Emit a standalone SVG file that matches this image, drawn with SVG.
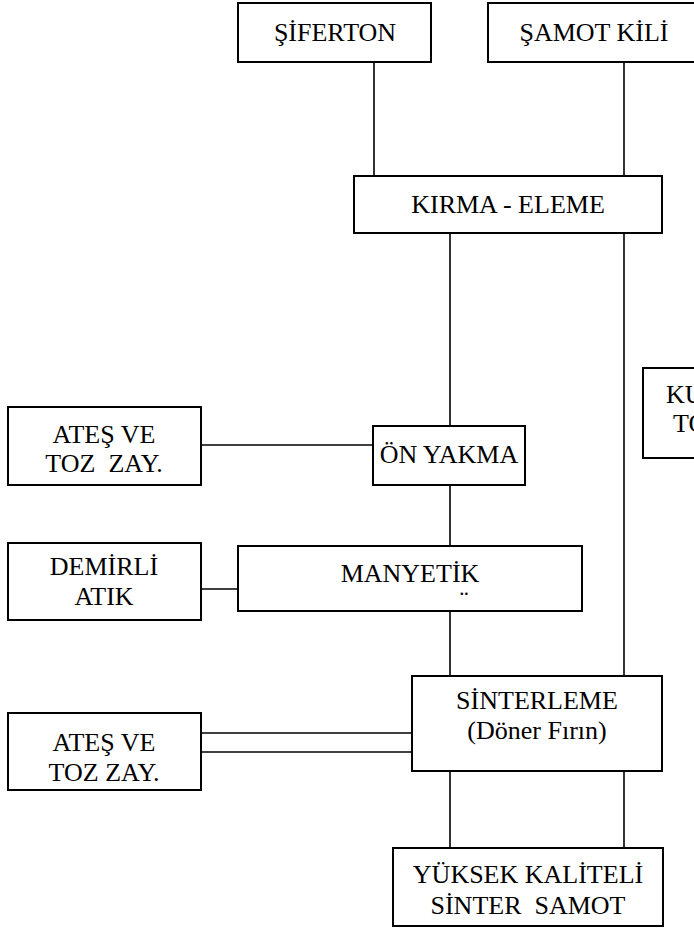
<svg xmlns="http://www.w3.org/2000/svg" width="694" height="929" viewBox="0 0 694 929">
  <style>
    .box { fill: #ffffff; stroke: #000000; stroke-width: 2; }
    .wire { fill: none; stroke: #000000; stroke-width: 1.6; }
    .lbl { font-family: 'Liberation Serif', 'DejaVu Serif', 'Times New Roman', serif; font-size: 26px; fill: #000000; }
    .lbl text { white-space: pre; }
    .c { text-anchor: middle; }
  </style>
  <rect width="694" height="929" fill="#ffffff"/>

  <!-- connectors -->
  <g id="connectors">
    <line class="wire" x1="374" y1="62" x2="374" y2="176"/>
    <line class="wire" x1="624" y1="62" x2="624" y2="176"/>
    <line class="wire" x1="450" y1="233" x2="450" y2="426"/>
    <line class="wire" x1="624" y1="233" x2="624" y2="676"/>
    <line class="wire" x1="201" y1="445" x2="373" y2="445"/>
    <line class="wire" x1="450" y1="485" x2="450" y2="546"/>
    <line class="wire" x1="201" y1="589" x2="238" y2="589"/>
    <line class="wire" x1="450" y1="611" x2="450" y2="676"/>
    <line class="wire" x1="201" y1="733" x2="412" y2="733"/>
    <line class="wire" x1="201" y1="752" x2="412" y2="752"/>
    <line class="wire" x1="450" y1="771" x2="450" y2="848"/>
    <line class="wire" x1="624" y1="771" x2="624" y2="848"/>
  </g>

  <g class="lbl">
    <g id="siferton">
      <rect class="box" x="238" y="3" width="193" height="59"/>
      <text class="c" x="335" y="41">ŞİFERTON</text>
    </g>

    <g id="samot-kili">
      <rect class="box" x="488" y="3" width="212" height="59"/>
      <text class="c" x="594" y="41">ŞAMOT KİLİ</text>
    </g>

    <g id="kirma-eleme">
      <rect class="box" x="354" y="176" width="308" height="57"/>
      <text class="c" x="508" y="213">KIRMA - ELEME</text>
    </g>

    <g id="ku-to">
      <rect class="box" x="643" y="368" width="60" height="90"/>
      <text x="666" y="403">KU</text>
      <text x="673" y="432">TO</text>
    </g>

    <g id="ates-toz-1">
      <rect class="box" x="8" y="407" width="193" height="78"/>
      <text class="c" x="104" y="443">ATEŞ VE</text>
      <text class="c" x="104" y="472" xml:space="preserve">TOZ  ZAY.</text>
    </g>

    <g id="on-yakma">
      <rect class="box" x="373" y="426" width="152" height="59"/>
      <text class="c" x="449" y="463">ÖN YAKMA</text>
    </g>

    <g id="demirli-atik">
      <rect class="box" x="8" y="543" width="193" height="77"/>
      <text class="c" x="104" y="575">DEMİRLİ</text>
      <text class="c" x="104" y="605">ATIK</text>
    </g>

    <g id="manyetik">
      <rect class="box" x="238" y="546" width="344" height="65"/>
      <text class="c" x="410" y="582">MANYETİK</text>
      <text class="c" x="464" y="609">¨</text>
    </g>

    <g id="sinterleme">
      <rect class="box" x="412" y="676" width="250" height="95"/>
      <text class="c" x="537" y="709">SİNTERLEME</text>
      <text class="c" x="537" y="739">(Döner Fırın)</text>
    </g>

    <g id="ates-toz-2">
      <rect class="box" x="8" y="713" width="193" height="77"/>
      <text class="c" x="104" y="751">ATEŞ VE</text>
      <text class="c" x="104" y="781">TOZ ZAY.</text>
    </g>

    <g id="yuksek-kaliteli">
      <rect class="box" x="393" y="848" width="270" height="78"/>
      <text class="c" x="528" y="883">YÜKSEK KALİTELİ</text>
      <text class="c" x="528" y="914" xml:space="preserve">SİNTER  SAMOT</text>
    </g>
  </g>
</svg>
